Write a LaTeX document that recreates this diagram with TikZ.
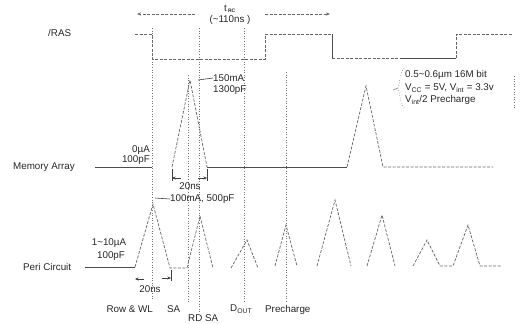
\documentclass[tikz,border=0pt]{standalone}
\usepackage{fontspec}
\setmainfont{Liberation Sans}
\usetikzlibrary{arrows.meta}
\begin{document}
\begin{tikzpicture}[x=1pt,y=-1pt,
  lbl/.style={inner sep=0pt, font=\fontsize{9.8}{11}\selectfont, text=black!85},
  wave/.style={draw=black!60, line width=0.7pt, dash pattern=on 3pt off 1.5pt},
  solidw/.style={draw=black!70, line width=0.8pt},
  guide/.style={draw=black!55, line width=0.6pt, dotted},
  dimarrow/.style={draw=black!75, line width=0.6pt, -{Stealth[length=3.5pt,width=3pt]}},
  tick/.style={draw=black!75, line width=0.6pt}]
\useasboundingbox (0,0) rectangle (523,324);

% ---------- top t_RC arrow ----------
\node[lbl] (trc) at (230,9) {t\textsubscript{\,\textbf{\tiny RC}}};
\node[lbl] (trcv) at (230,20) {(\textasciitilde110ns )};
\coordinate (trcL) at (137,14);
\coordinate (trcLs) at (195,14);
\coordinate (trcR) at (330,14);
\coordinate (trcRs) at (265,14);
\draw[wave, -{Stealth[length=4pt,width=3pt]}] (trcLs) -- (trcL);
\draw[wave, -{Stealth[length=4pt,width=3pt]}] (trcRs) -- (trcR);

% ---------- /RAS ----------
\node[lbl, anchor=west] (ras) at (48,33) {/RAS};
\draw[wave] (135,34) -- (152,34) -- (152,59) -- (265,59) -- (265,34) -- (332,34);
\draw[solidw] (332,34) -- (332,58);
\draw[wave] (332,58) -- (400,58);
\draw[solidw] (400,58) -- (456,58);
\draw[wave] (456,58) -- (456,34) -- (512,34);

% ---------- guides ----------
\draw[guide] (152,28) -- (152,300);
\draw[guide] (188,75) -- (188,302);
\draw[guide] (199,28) -- (199,312);
\draw[guide] (244,28) -- (244,302);
\draw[guide] (286,72) -- (286,302);

% ---------- memory array ----------
\node[lbl, anchor=west] (mem) at (13,167) {Memory Array};
\node[lbl, anchor=east] (mem0) at (150,150) {0µA};
\node[lbl, anchor=east] (mem1) at (150,160) {100pF};
\draw[solidw] (95,167) -- (152,167);
\draw[wave] (172,167) -- (190,80) -- (207,167);
\draw[solidw] (207,167) -- (347,167);
\draw[wave] (347,167) -- (366,86) -- (383,167) -- (493,167);
\node[lbl, anchor=west] (m150) at (213,78) {150mA};
\node[lbl, anchor=west] (m1300) at (213,90) {1300pF};
\draw[tick] (198,80) -- (m150.west);
% 20ns (memory)
\draw[tick] (172,169) -- (172,181);
\draw[tick] (207,169) -- (207,181);
\draw[dimarrow] (181,178) -- (172,178);
\draw[dimarrow] (198,178) -- (207,178);
\node[lbl] (m20) at (190,186) {20ns};
\node[lbl, anchor=west] (p100) at (170,199) {100mA, 500pF};
\draw[tick] (155,198) -- (p100.west);

% ---------- note ----------
\node[lbl, anchor=west] (n1) at (405,75) {0.5\textasciitilde0.6µm 16M bit};
\node[lbl, anchor=west] (n2) at (405,88) {V\textsubscript{CC} = 5V, V\textsubscript{int} = 3.3v};
\node[lbl, anchor=west] (n3) at (405,100) {V\textsubscript{int}/2 Precharge};
\draw[guide] (404,68) .. controls (399,75) and (400,84) .. (398,88)
             .. controls (400,92) and (399,100) .. (404,108);
\draw[tick, draw=black!50] (398,88) -- (393,90);
\draw[guide] (514,76) -- (514,108);

% ---------- peri circuit ----------
\node[lbl, anchor=west] (peri) at (23,267) {Peri Circuit};
\node[lbl] (pa) at (109,243) {1\textasciitilde10µA};
\node[lbl] (pb) at (111,256) {100pF};
\draw[solidw] (85,267) -- (135,267);
\draw[wave] (135,267) -- (153,204) -- (170,268) -- (187,268)
  -- (200,216) -- (213,268);
\draw[wave] (231,268) -- (247,240) -- (258,268);
\draw[wave] (275,266) -- (286,225) -- (297,266);
\draw[wave] (317,266) -- (335,200) -- (351,266);
\draw[wave] (367,266) -- (382,215) -- (395,266);
\draw[wave] (413,266) -- (427,240) -- (440,266) -- (453,266)
  -- (468,225) -- (480,266) -- (502,266);
% 20ns (peri)
\draw[tick] (171,270) -- (171,281);
\draw[dimarrow] (144,279) -- (135,279);
\draw[dimarrow] (162,278) -- (171,278);
\node[lbl] (p20) at (150,289) {20ns};

% ---------- bottom labels ----------
\node[lbl, anchor=east] (row) at (153,309) {Row \& WL};
\node[lbl, anchor=west] (sa) at (167,309) {SA};
\node[lbl, anchor=west] (rdsa) at (188,318) {RD SA};
\node[lbl, anchor=west] (dout) at (230,309) {D\textsubscript{OUT}};
\node[lbl, anchor=west] (pre) at (265,310) {Precharge};
\end{tikzpicture}
\end{document}
